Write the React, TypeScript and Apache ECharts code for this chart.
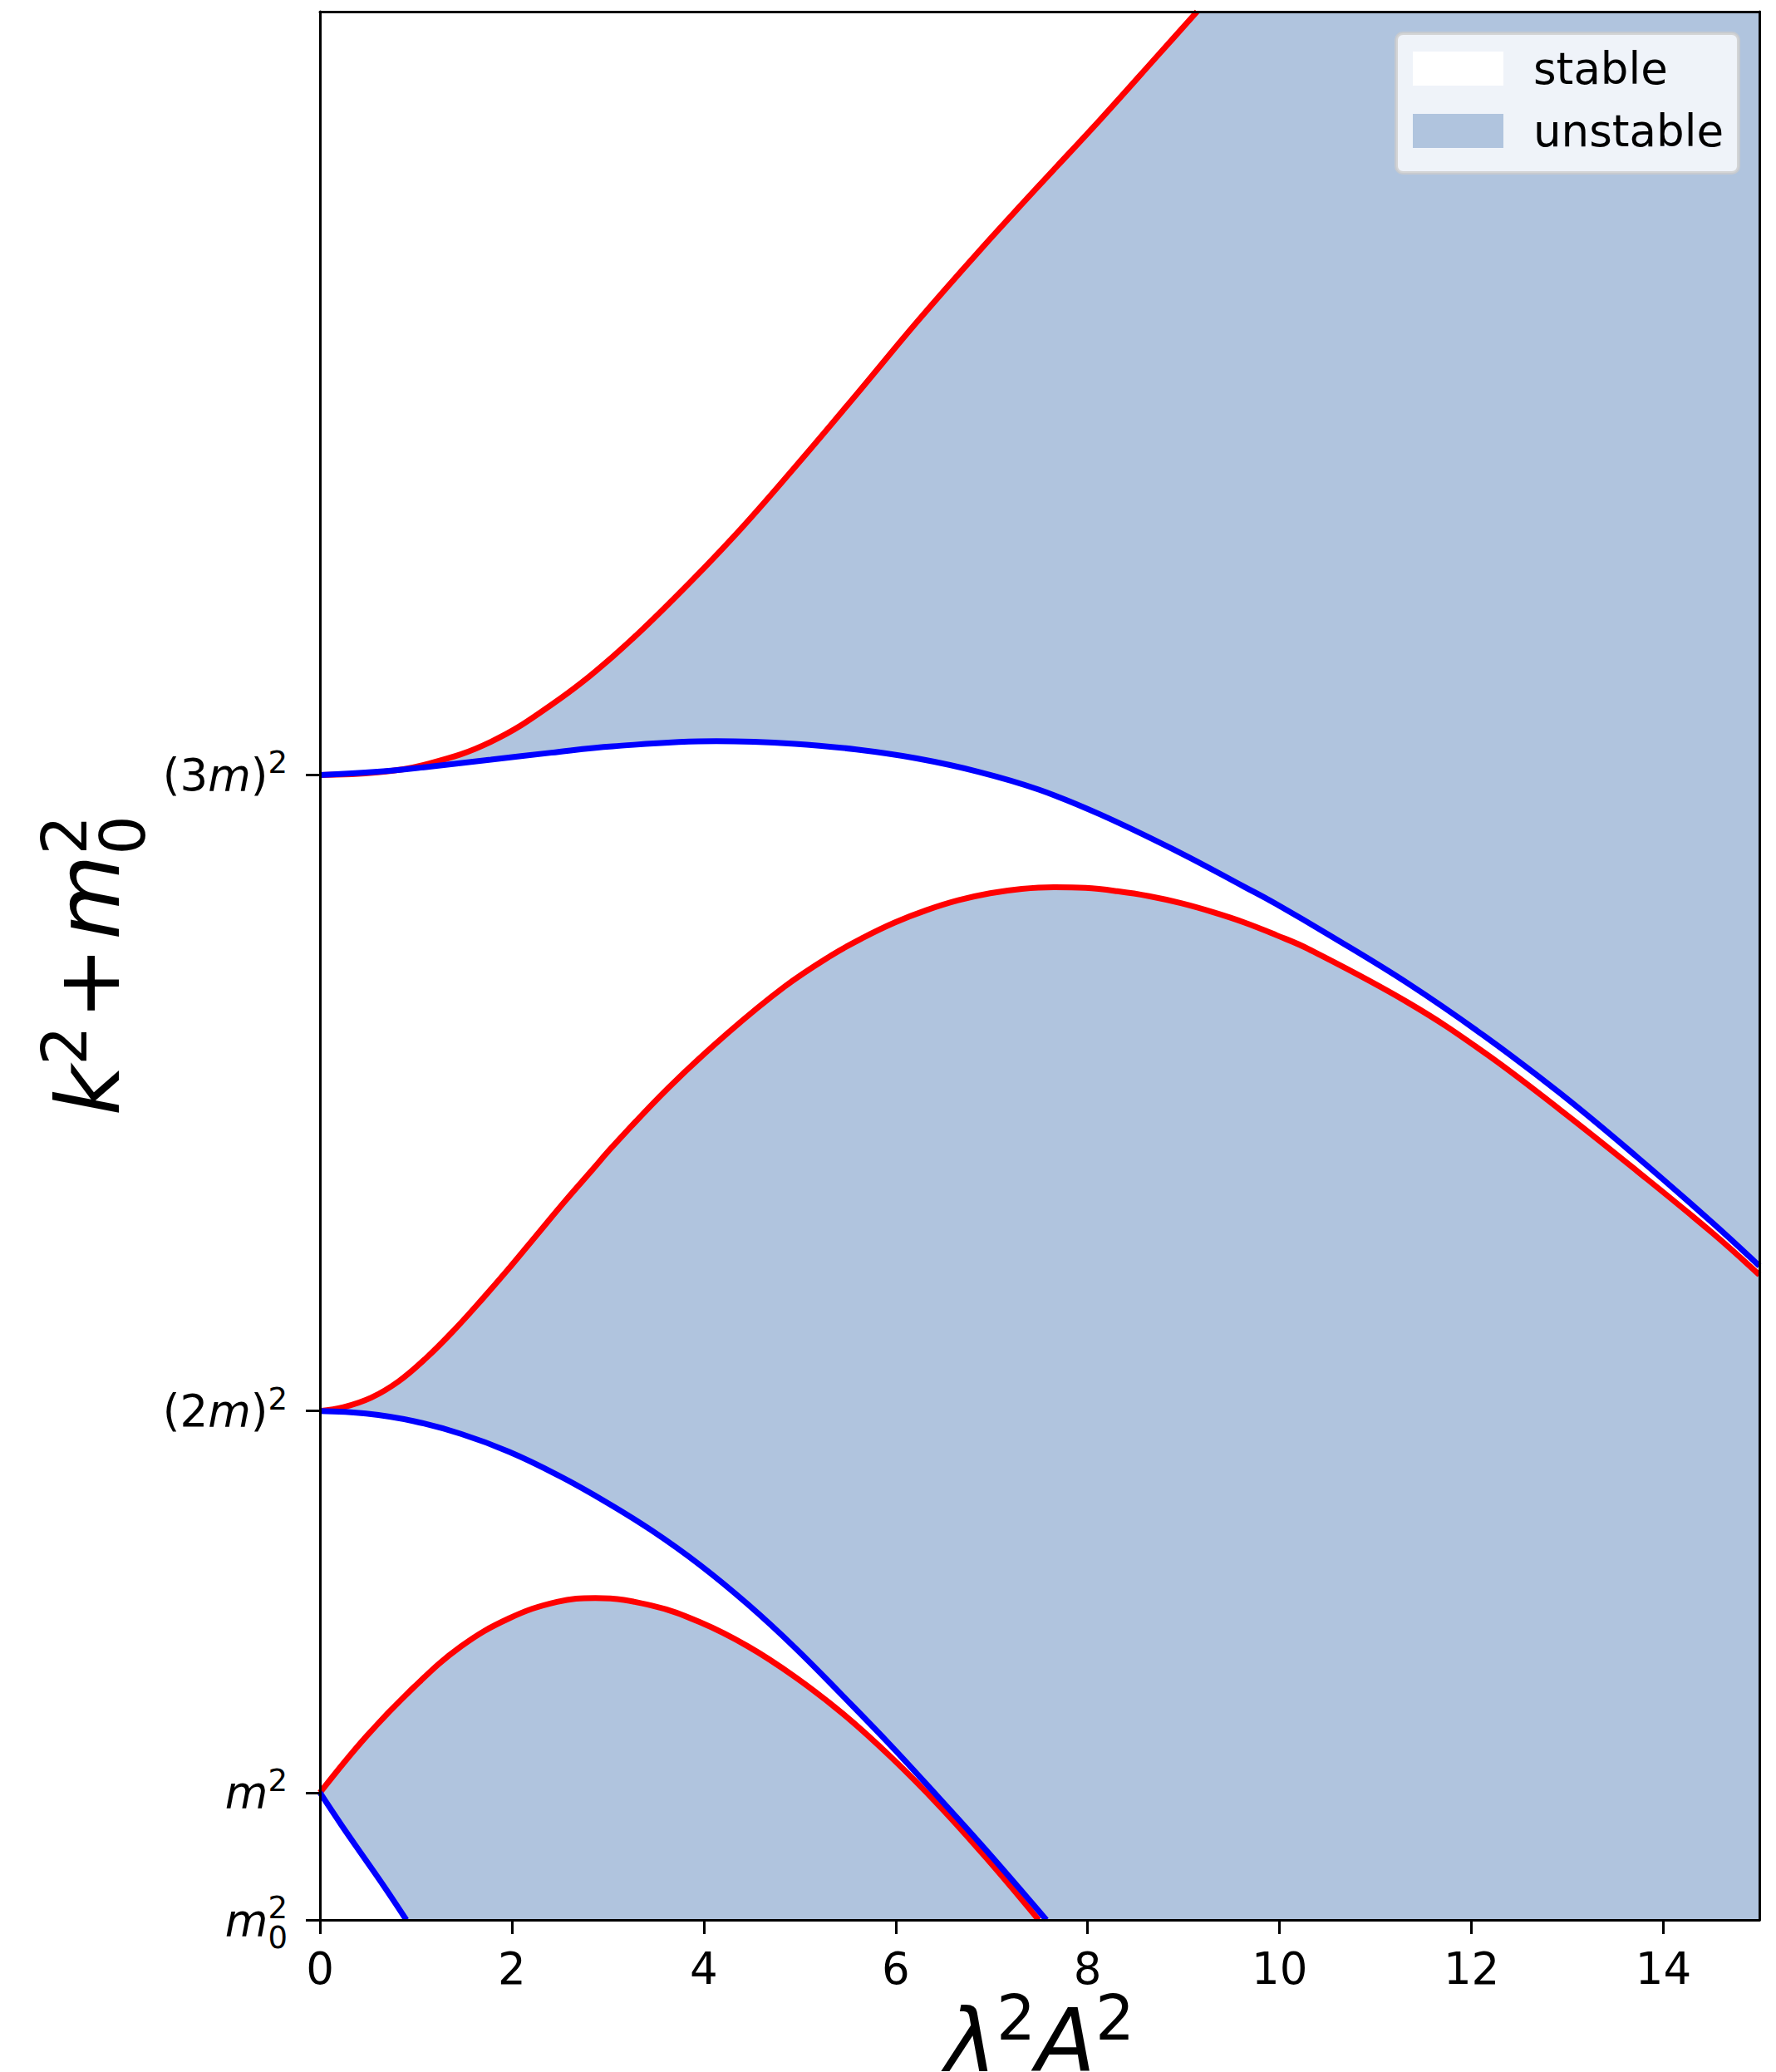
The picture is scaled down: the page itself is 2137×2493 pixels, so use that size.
import React, { useEffect, useRef } from 'react';
import * as echarts from 'echarts';

// ---- data ----
const X_MIN = 0;
const X_MAX = 15;
const Y_MIN = 0;
const Y_MAX = 15;

const xTickValues = [0, 2, 4, 6, 8, 10, 12, 14];
const yTickValues = [0, 1, 4, 9];
const yTickLabels = [
  '{i|m}{sub|0}{sup|2}',
  '{i|m}{sup|2}',
  '{n|(2}{i|m}{n|)}{sup|2}',
  '{n|(3}{i|m}{n|)}{sup|2}',
];
const legendNames = ['stable', 'unstable'];
const xAxisTitle = '{i|λ}{sup|2}{i|A}{sup|2}';
const yAxisTitle = '{i|k}{sup|2}{n|+}{i|m}{sub|0}{sup|2}';

// boundary curves [λ²A², k²+m0²]
const blue1 = [[0, 1], [0.22, 0.75], [0.45, 0.5], [0.68, 0.25], [0.9, 0]];
const red1 = [
  [0, 1], [0.48, 1.44], [0.98, 1.83], [1.47, 2.15], [1.97, 2.37], [2.47, 2.5],
  [2.87, 2.53], [3.46, 2.47], [3.96, 2.34], [4.46, 2.15], [4.95, 1.91],
  [5.45, 1.62], [5.95, 1.28], [6.45, 0.9], [6.94, 0.49], [7.49, 0],
];
const blue2 = [
  [0, 4], [0.48, 3.98], [0.98, 3.92], [1.47, 3.82], [1.97, 3.68], [2.47, 3.5],
  [2.97, 3.29], [3.46, 3.06], [3.96, 2.79], [4.46, 2.48], [4.95, 2.14],
  [5.45, 1.76], [5.95, 1.37], [6.45, 0.96], [6.94, 0.55], [7.57, 0],
];
const red2 = [
  [0, 4], [0.245, 4.03], [0.534, 4.105], [0.823, 4.235], [1.111, 4.42],
  [1.4, 4.638], [1.689, 4.878], [1.977, 5.128], [2.266, 5.39], [2.555, 5.651],
  [2.843, 5.9], [3.046, 6.076], [3.63, 6.54], [4.24, 6.965], [4.84, 7.335],
  [5.326, 7.58], [5.658, 7.72], [5.989, 7.84], [6.32, 7.937], [6.652, 8.015],
  [6.983, 8.07], [7.314, 8.105], [7.646, 8.118], [7.978, 8.112], [8.309, 8.086],
  [8.64, 8.047], [8.972, 7.992], [9.303, 7.922], [9.634, 7.84], [9.966, 7.741],
  [10.297, 7.633], [11.34, 7.21], [12.13, 6.82], [12.92, 6.37],
  [13.72, 5.89], [14.51, 5.4], [15, 5.07],
];
const blue3 = [
  [0, 9], [0.6, 9.025], [1.14, 9.065], [1.78, 9.12], [2.41, 9.175], [3.05, 9.225],
  [4.13, 9.265], [4.95, 9.245], [5.59, 9.2], [6.22, 9.13], [6.86, 9.025],
  [7.49, 8.885], [8.13, 8.69], [8.96, 8.39], [9.634, 8.12], [9.966, 7.985],
  [10.52, 7.74], [11.34, 7.36], [12.13, 6.95], [12.92, 6.5], [13.72, 6.0],
  [14.51, 5.48], [15, 5.14],
];
const red3 = [
  [0, 9], [0.6, 9.02], [1.14, 9.09], [1.78, 9.26], [2.41, 9.55], [3.05, 9.93],
  [3.68, 10.38], [4.32, 10.88], [4.95, 11.42], [5.59, 11.99], [6.22, 12.56],
  [6.86, 13.11], [7.49, 13.63], [8.13, 14.15], [8.76, 14.68], [9.14, 15.0],
];

// ---- styling ----
const FONT = 'DejaVu Sans';
const STABLE = '#FFFFFF';
const UNSTABLE = '#B0C4DE';
const RED = '#FF0000';
const BLUE = '#0000FF';
const SMOOTH = 0.4;
const LINE_W = 7;

const tickRich = {
  n: { fontSize: 53, fontFamily: FONT, color: '#000', lineHeight: 60, align: 'left' },
  i: { fontSize: 53, fontFamily: FONT, fontStyle: 'italic', color: '#000', lineHeight: 60, align: 'left' },
  sup: { fontSize: 37, fontFamily: FONT, color: '#000', lineHeight: 60, padding: [0, 0, 29, 0], align: 'left' },
  sub: { fontSize: 37, fontFamily: FONT, color: '#000', lineHeight: 60, padding: [43, 0, 0, 0], width: 0.001, align: 'left' },
};

const yNameRich = {
  n: { fontSize: 105, fontFamily: FONT, color: '#000', lineHeight: 170, padding: [0, 8, 0, 8], align: 'left' },
  i: { fontSize: 105, fontFamily: FONT, fontStyle: 'italic', color: '#000', lineHeight: 170, align: 'left' },
  sup: { fontSize: 74, fontFamily: FONT, color: '#000', lineHeight: 170, padding: [0, 0, 59, 0], align: 'left' },
  sub: { fontSize: 74, fontFamily: FONT, color: '#000', lineHeight: 170, padding: [81, 0, 0, 0], width: 0.001, align: 'left' },
};

const xNameRich = {
  i: { fontSize: 105, fontFamily: FONT, fontStyle: 'italic', color: '#000', lineHeight: 140, align: 'left' },
  sup: { fontSize: 74, fontFamily: FONT, color: '#000', lineHeight: 140, padding: [0, 0, 57, 0], align: 'left' },
};

function fillSeries(name: string, data: number[][], color: string, origin: string) {
  return {
    type: 'line',
    name,
    data,
    smooth: SMOOTH,
    symbol: 'none',
    silent: true,
    z: 1,
    lineStyle: { width: 0, color },
    itemStyle: { color },
    areaStyle: { color, opacity: 1, origin },
  };
}

function lineSeries(name: string, data: number[][], color: string) {
  return {
    type: 'line',
    name,
    data,
    smooth: SMOOTH,
    symbol: 'none',
    silent: true,
    z: 3,
    lineStyle: { width: LINE_W, color },
    itemStyle: { color },
  };
}

const axisLineStyle = { color: '#000', width: 3 };

const option = {
  animation: false,
  backgroundColor: '#ffffff',
  textStyle: { fontFamily: FONT },
  grid: {
    left: 385,
    right: 20,
    top: 14,
    bottom: 183,
    containLabel: false,
    outerBoundsMode: 'none',
    show: true,
    backgroundColor: UNSTABLE,
    borderWidth: 0,
  },
  legend: {
    orient: 'vertical',
    left: 1680,
    top: 40,
    padding: [16, 18, 24, 20],
    itemWidth: 109,
    itemHeight: 41,
    itemGap: 22,
    selectedMode: false,
    backgroundColor: 'rgba(255,255,255,0.8)',
    borderColor: 'rgba(204,204,204,0.8)',
    borderWidth: 4,
    borderRadius: 8,
    textStyle: { fontSize: 53, color: '#000', fontFamily: FONT, padding: [0, 0, 0, 31] },
    data: [
      { name: legendNames[0], icon: 'rect', itemStyle: { color: STABLE, borderWidth: 0 } },
      { name: legendNames[1], icon: 'rect', itemStyle: { color: UNSTABLE, borderWidth: 0 } },
    ],
  },
  xAxis: [
    {
      type: 'value',
      min: X_MIN,
      max: X_MAX,
      position: 'bottom',
      z: 10,
      axisLine: { show: true, onZero: false, lineStyle: axisLineStyle },
      axisTick: { show: true, inside: false, length: 17, lineStyle: axisLineStyle, customValues: xTickValues },
      axisLabel: {
        show: true,
        customValues: xTickValues,
        fontSize: 53,
        color: '#000',
        fontFamily: FONT,
        margin: 32,
        showMinLabel: true,
      },
      splitLine: { show: false },
      name: xAxisTitle,
      nameLocation: 'middle',
      nameGap: 76,
      nameMoveOverlap: false,
      nameTextStyle: { rich: xNameRich },
    },
    {
      type: 'value',
      min: X_MIN,
      max: X_MAX,
      position: 'top',
      z: 10,
      axisLine: { show: true, onZero: false, lineStyle: axisLineStyle },
      axisTick: { show: false },
      axisLabel: { show: false },
      splitLine: { show: false },
    },
  ],
  yAxis: [
    {
      type: 'value',
      min: Y_MIN,
      max: Y_MAX,
      position: 'left',
      z: 10,
      axisLine: { show: true, onZero: false, lineStyle: axisLineStyle },
      axisTick: { show: true, inside: false, length: 17, lineStyle: axisLineStyle, customValues: yTickValues },
      axisLabel: {
        show: true,
        customValues: yTickValues,
        margin: 39,
        showMinLabel: true,
        showMaxLabel: true,
        formatter: (v: number) => {
          const k = yTickValues.indexOf(v);
          return k >= 0 ? yTickLabels[k] : '';
        },
        rich: tickRich,
      },
      splitLine: { show: false },
      name: yAxisTitle,
      nameLocation: 'middle',
      nameRotate: 90,
      nameGap: 193,
      nameMoveOverlap: false,
      nameTextStyle: { rich: yNameRich },
    },
    {
      type: 'value',
      min: Y_MIN,
      max: Y_MAX,
      position: 'right',
      z: 10,
      axisLine: { show: true, onZero: false, lineStyle: axisLineStyle },
      axisTick: { show: false },
      axisLabel: { show: false },
      splitLine: { show: false },
    },
  ],
  series: [
    fillSeries(legendNames[0], red3, STABLE, 'end'),
    fillSeries(legendNames[0], blue3, STABLE, 'start'),
    fillSeries(legendNames[1], red2, UNSTABLE, 'start'),
    fillSeries(legendNames[0], blue2, STABLE, 'start'),
    fillSeries(legendNames[1], red1, UNSTABLE, 'start'),
    fillSeries(legendNames[0], blue1, STABLE, 'start'),
    lineSeries('upper boundary 1', red1, RED),
    lineSeries('upper boundary 2', red2, RED),
    lineSeries('upper boundary 3', red3, RED),
    lineSeries('lower boundary 1', blue1, BLUE),
    lineSeries('lower boundary 2', blue2, BLUE),
    lineSeries('lower boundary 3', blue3, BLUE),
  ],
};

export default function App() {
  const ref = useRef<HTMLDivElement>(null);
  useEffect(() => {
    if (!ref.current) return;
    const chart = echarts.init(ref.current, null, { renderer: 'svg' });
    chart.setOption(option as any);
    return () => chart.dispose();
  }, []);
  return (
    <div
      ref={ref}
      style={{ position: 'fixed', left: 0, top: 0, width: 2137, height: 2493, background: '#fff' }}
    />
  );
}
